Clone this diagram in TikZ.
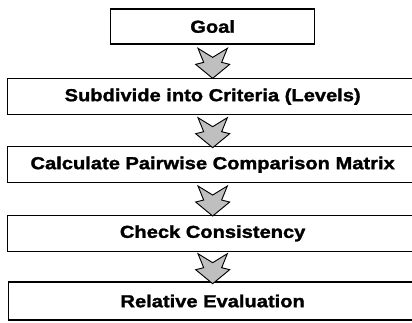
\documentclass[tikz,border=0pt]{standalone}
\usepackage{fontspec}
\usetikzlibrary{positioning,calc}

\newfontfamily\stepfont{Liberation Sans}[FakeStretch=1.16, FakeBold=1.6]

\tikzset{
  stagebox/.style={draw, line width=0.8pt, inner sep=0pt, outer sep=0pt, minimum height=27pt,
    font=\stepfont\bfseries\fontsize{13}{15}\selectfont},
  wide/.style={minimum width=307.5pt},
  flowarrow/.pic={
    \filldraw[line width=0.7pt, fill=black!25, line join=miter]
      (-11pt,11.25pt) -- (0,4.5pt) -- (11pt,11.25pt) -- (6.75pt,0.75pt)
      -- (12.75pt,-0.75pt) -- (0,-11.25pt) -- (-12.75pt,-0.75pt)
      -- (-6.75pt,0.75pt) -- cycle;
  }
}

\begin{document}
\begin{tikzpicture}
  \useasboundingbox (0,0) rectangle (309pt,-242.25pt);

  % The five stages, top to bottom
  \node[stagebox, minimum width=153pt, minimum height=26.25pt] (goal) at (159.5pt,-19.9pt) {Goal};
  \node[stagebox, wide, below=26pt of goal] (criteria) {Subdivide into Criteria (Levels)};
  \node[stagebox, wide, below=24pt of criteria] (matrix) {Calculate Pairwise Comparison Matrix};
  \node[stagebox, wide, below=24.5pt of matrix] (consist) {Check Consistency};
  \node[stagebox, minimum width=306pt, minimum height=28.5pt, below=23pt of consist] (evalrel) {Relative Evaluation};

  % Block arrows between stages
  \pic at ($(goal.south)!0.5!(criteria.north)+(0,-1.5pt)$) {flowarrow};
  \pic at ($(criteria.south)!0.5!(matrix.north)+(0,-1.5pt)$) {flowarrow};
  \pic at ($(matrix.south)!0.5!(consist.north)+(0,-1.5pt)$) {flowarrow};
  \pic at ($(consist.south)!0.5!(evalrel.north)+(0,-1.5pt)$) {flowarrow};
\end{tikzpicture}
\end{document}
